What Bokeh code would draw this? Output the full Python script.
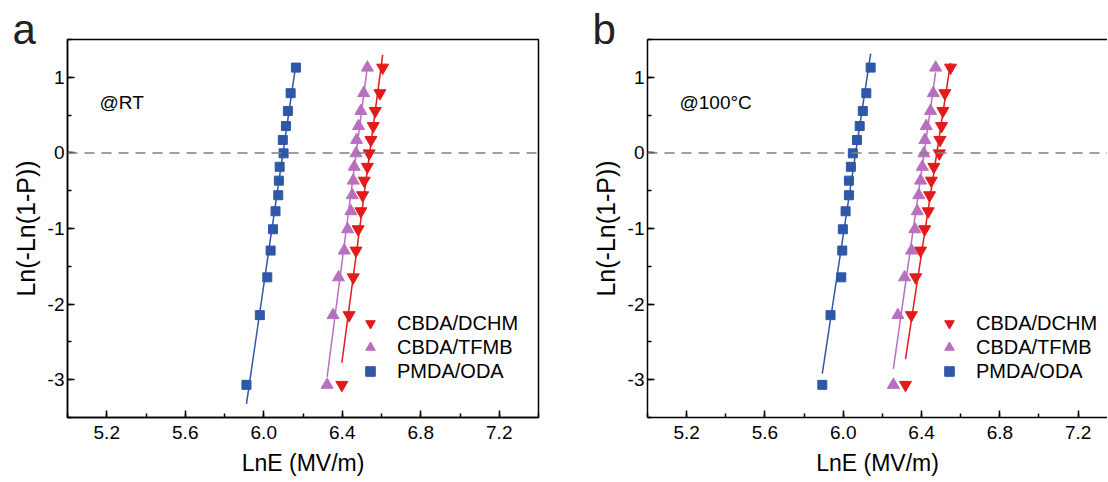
import numpy as np
from bokeh.plotting import figure
from bokeh.layouts import row
from bokeh.models import (Span, Label, Legend, LegendItem, SingleIntervalTicker,
                          FixedTicker, PrintfTickFormatter, Range1d, LinearAxis)
from bokeh.embed import file_html
from bokeh.resources import INLINE

# ---------------- data ----------------
y_rank = [-3.068, -2.146, -1.646, -1.292, -1.010, -0.772, -0.560, -0.367,
          -0.184, -0.006, 0.171, 0.355, 0.555, 0.790, 1.128]

# panel a (@RT)
a_dchm = [6.398, 6.435, 6.456, 6.470, 6.481, 6.495, 6.504, 6.512, 6.528,
          6.537, 6.546, 6.558, 6.568, 6.592, 6.606]
a_tfmb = [6.323, 6.353, 6.381, 6.410, 6.427, 6.444, 6.451, 6.456, 6.461,
          6.470, 6.473, 6.483, 6.495, 6.509, 6.528]
a_oda = [5.912, 5.980, 6.018, 6.035, 6.047, 6.060, 6.074, 6.077, 6.081,
         6.101, 6.097, 6.113, 6.123, 6.137, 6.164]

# panel b (@100°C)
b_dchm = [6.318, 6.348, 6.370, 6.395, 6.416, 6.434, 6.441, 6.450, 6.463,
          6.491, 6.494, 6.502, 6.509, 6.519, 6.548]
b_tfmb = [6.256, 6.279, 6.313, 6.349, 6.366, 6.378, 6.386, 6.395, 6.404,
          6.412, 6.417, 6.424, 6.446, 6.460, 6.472]
b_oda = [5.893, 5.935, 5.990, 5.995, 5.998, 6.012, 6.029, 6.029, 6.039,
         6.049, 6.070, 6.084, 6.100, 6.118, 6.140]

labels = ["CBDA/DCHM", "CBDA/TFMB", "PMDA/ODA"]
colors = ["#E3191C", "#B86FC0", "#2F57A8"]
markers = ["inverted_triangle", "triangle", "square"]
msizes = [12, 12, 9]

FONT = "Liberation Sans"


def style_axis(ax, ticker, fmt, label, label_size):
    ax.ticker = ticker
    ax.formatter = fmt
    ax.axis_label = label
    ax.axis_line_width = 1.5
    ax.axis_line_color = "black"
    ax.major_tick_in = 7
    ax.major_tick_out = 0
    ax.minor_tick_in = 4
    ax.minor_tick_out = 0
    ax.major_tick_line_width = 1.5
    ax.minor_tick_line_width = 1.5
    ax.major_label_text_font = FONT
    ax.major_label_text_font_size = "19px"
    ax.major_label_text_color = "black"
    ax.axis_label_text_font = FONT
    ax.axis_label_text_font_size = label_size
    ax.axis_label_text_font_style = "normal"
    ax.axis_label_text_color = "black"


def make_panel(series, letter, cond, width, bl, br, xend, right_border, leg_x):
    p = figure(width=width, height=480, x_range=Range1d(5.0, xend),
               y_range=Range1d(-3.5, 1.5), output_backend="svg",
               toolbar_location=None, min_border_left=bl, min_border_right=br,
               min_border_top=39, min_border_bottom=63)
    p.grid.visible = False
    p.background_fill_color = "white"
    p.border_fill_color = "white"

    xax = p.below[0]
    yax = p.left[0]
    style_axis(xax, SingleIntervalTicker(interval=0.4, num_minor_ticks=2),
               PrintfTickFormatter(format="%.1f"), "LnE (MV/m)", "23px")
    style_axis(yax, SingleIntervalTicker(interval=1, num_minor_ticks=2),
               PrintfTickFormatter(format="%d"), "Ln(-Ln(1-P))", "25px")
    xax.major_label_standoff = 8
    xax.axis_label_standoff = 8
    yax.major_label_standoff = 3
    yax.axis_label_standoff = 5

    if right_border:
        p.outline_line_color = "black"
        p.outline_line_width = 1.5
        p.outline_line_alpha = 1.0
    else:
        p.outline_line_color = None
        top = LinearAxis(ticker=FixedTicker(ticks=[]), axis_line_width=1.5,
                         axis_line_color="black",
                         major_tick_in=0, major_tick_out=0,
                         minor_tick_in=0, minor_tick_out=0,
                         major_label_standoff=0)
        p.add_layout(top, "above")

    # panel letter as the figure title
    p.title.text = letter
    p.title.text_font = FONT
    p.title.text_font_size = "42px"
    p.title.text_font_style = "normal"
    p.title.text_color = "#222222"
    p.title.align = "left"
    p.title.offset = -55
    p.title.standoff = -26

    p.add_layout(Span(location=0, dimension="width", line_color="#808080",
                      line_dash="10 7", line_width=1.5))

    items = []
    for xs, lab, c, m, s in zip(series, labels, colors, markers, msizes):
        xa = np.array(xs)
        ya = np.array(y_rank)
        k, b = np.polyfit(xa, ya, 1)
        x0, x1 = xa.min(), xa.max()
        p.line([x0, x1], [k * x0 + b, k * x1 + b], line_color=c, line_width=1.5)
        r = p.scatter(xs, y_rank, marker=m, size=s, fill_color=c, line_color=c)
        items.append(LegendItem(label=lab, renderers=[r]))

    leg = Legend(items=items, location=(leg_x, 34), background_fill_alpha=0,
                 border_line_color=None, padding=0, margin=0, spacing=0,
                 glyph_height=24, glyph_width=24, label_height=24,
                 label_standoff=15, label_text_font=FONT,
                 label_text_font_size="20px", label_text_color="black")
    p.add_layout(leg)

    p.add_layout(Label(x=32, y=315, x_units="screen", y_units="screen", text=cond,
                       text_font=FONT, text_font_size="19px", text_color="black",
                       text_baseline="alphabetic"))
    return p


pa = make_panel([a_dchm, a_tfmb, a_oda], "a", "@RT", 578, 67, 40, 7.4, True, 291)
pb = make_panel([b_dchm, b_tfmb, b_oda], "b", "@100°C", 529, 69, 0, 7.350, False, 290)

layout = row(pa, pb)
open("out.html", "w").write(file_html(layout, INLINE))
